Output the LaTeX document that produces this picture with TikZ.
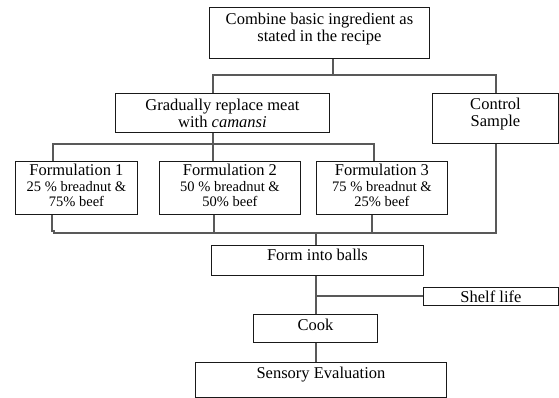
\documentclass[tikz,border=0pt]{standalone}
\usepackage{fontspec}
\setmainfont{Liberation Serif}

\tikzset{
  box/.style={draw=black!90, line width=0.9pt, anchor=north west, align=center, inner sep=0pt,
    font=\fontsize{16.5}{17}\selectfont},
  link/.style={draw=black!65, line width=1.4pt}
}
\newcommand{\mix}[1]{{\fontsize{14.5}{15}\selectfont #1}}

\begin{document}
\begin{tikzpicture}[x=1pt,y=-1pt]
    \useasboundingbox (0,0) rectangle (559,398);
    \node [box, minimum width=220pt, minimum height=51pt, text depth=12pt] (combine) at (209,7)
      {Combine basic ingredient as\\stated in the recipe};
    \node [box, minimum width=214pt, minimum height=39pt] (replace) at (115,93)
      {Gradually replace meat\\with \textit{camansi}};
    \node [box, minimum width=126pt, minimum height=50pt, text depth=12pt] (control) at (432,93)
      {Control\\Sample};
    \node [box, minimum width=122pt, minimum height=53pt, text depth=6pt] (f1) at (15,161)
      {Formulation 1\\[-1pt]\mix{25 \% breadnut \&}\\[-2pt]\mix{75\% beef}};
    \node [box, minimum width=141pt, minimum height=53pt, text depth=6pt] (f2) at (159,161)
      {Formulation 2\\[-1pt]\mix{50 \% breadnut \&}\\[-2pt]\mix{50\% beef}};
    \node [box, minimum width=131pt, minimum height=53pt, text depth=6pt] (f3) at (316,161)
      {Formulation 3\\[-1pt]\mix{75 \% breadnut \&}\\[-2pt]\mix{25\% beef}};
    \node [box, minimum width=212pt, minimum height=30pt, text depth=12pt] (balls) at (211,245) {Form into balls};
    \node [box, minimum width=135pt, minimum height=18pt] (shelf) at (423,287) {Shelf life};
    \node [box, minimum width=124pt, minimum height=28pt, text depth=7pt] (cook) at (253,314) {Cook};
    \node [box, minimum width=251pt, minimum height=35pt, text depth=15pt] (sensory) at (195,362) {Sensory Evaluation};

    \coordinate (split) at (333,75);
    \coordinate (repl) at (213,75);
    \coordinate (ctl) at (496,75);
    \draw [link] (combine.south -| split) -- (split);
    \draw [link] (replace.north -| repl) -- (repl) -- (ctl) -- (control.north -| ctl);

    \coordinate (fork) at (213,144);
    \coordinate (fa) at (53,144);
    \coordinate (fc) at (374,144);
    \draw [link] (replace.south -| fork) -- (fork);
    \draw [link] (f1.north -| fa) -- (fa) -- (fc) -- (f3.north -| fc);
    \draw [link] (f2.north -| fork) -- (fork);

    \coordinate (jog) at (52,231);
    \coordinate (ma) at (54,233);
    \coordinate (mb) at (496,233);
    \coordinate (mf2) at (214,233);
    \coordinate (mf3) at (372,233);
    \coordinate (merge) at (316,233);
    \draw [link] (f1.south -| jog) -- (jog) -- (jog -| ma) -- (ma) -- (mb) -- (control.south -| mb);
    \draw [link] (f2.south -| mf2) -- (mf2);
    \draw [link] (f3.south -| mf3) -- (mf3);
    \draw [link] (merge) -- (balls.north -| merge);

    \coordinate (tap) at (316,296);
    \draw [link] (balls.south -| tap) -- (cook.north -| tap);
    \draw [link] (tap) -- (shelf.west |- tap);
    \draw [link] (cook.south -| tap) -- (sensory.north -| tap);
\end{tikzpicture}
\end{document}
